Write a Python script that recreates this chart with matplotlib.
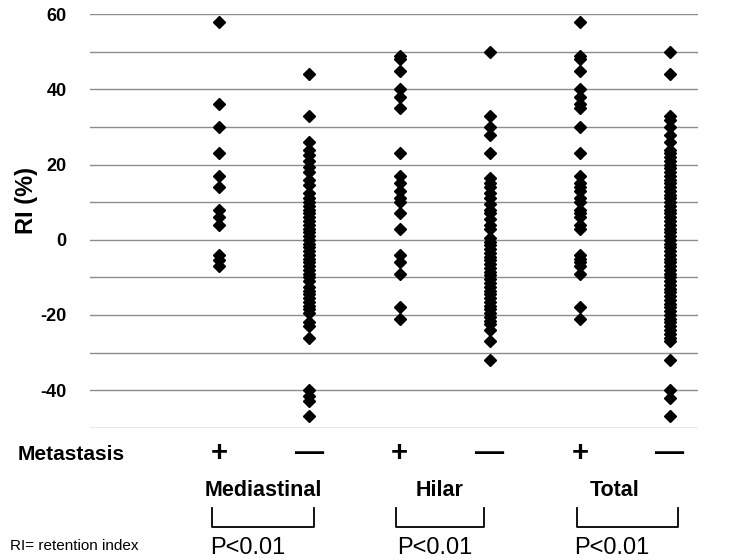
import matplotlib.pyplot as plt
import matplotlib.transforms as mtransforms
from matplotlib.lines import Line2D

# RI (%) values, one list per column
med_pos = [58, 36, 30, 23, 17, 14, 8, 6, 4, -4, -5.5, -7]
med_neg = [44, 33, 26, 24, 22.5, 21, 19.5, 18, 16, 14.5, 12.5, 11, 10, 9, 8,
           7, 6, 5, 4, 3, 2, 1, 0, -1, -2, -3, -4, -5, -6, -7, -8, -9, -10,
           -11, -12.5, -13.5, -14.5, -15.5, -16.5, -17.5, -18.5, -19.5,
           -22, -23, -26, -40, -41.5, -43, -47]
hil_pos = [49, 48, 45, 40, 38, 35, 23, 17, 15, 13, 11, 10, 7, 3, -4, -6, -9,
           -18, -21]
hil_neg = [50, 33, 30, 28, 23, 16.5, 15, 14, 12.5, 11, 9.5, 8, 7, 5.5, 4, 3,
           0.5, -0.5, -1.5, -2.5, -3.5, -4.5, -5.5, -6.5, -7.5, -8.5, -9.5,
           -10.5, -11.5, -12.5, -13.5, -14.5, -15.5, -16.5, -17.5, -18.5,
           -19.5, -20.5, -21.5, -22.5, -24, -27, -32]
tot_pos = [58, 49, 48, 45, 40, 38, 36, 35, 30, 23, 17, 15, 14, 13, 11, 10, 8,
           7, 6, 4, 3, -4, -5, -6, -7, -9, -18, -21]
tot_neg = [50, 44, 33, 32, 30, 28, 26, 24, 23, 22, 21, 20, 19, 18, 17, 16, 15,
           14, 13, 12, 11, 10, 9, 8, 7, 6, 5, 4, 3, 2, 1, 0, -1, -2, -3, -4,
           -5, -6, -7, -8, -9, -10, -11, -12, -13, -14, -15, -16, -17, -18,
           -19, -20, -21, -22, -23, -24, -25, -26, -27, -32, -40, -42, -47]

columns = [med_pos, med_neg, hil_pos, hil_neg, tot_pos, tot_neg]
signs = ["+", "\u2014", "+", "\u2014", "+", "\u2014"]
groups = ["Mediastinal", "Hilar", "Total"]
p_texts = ["P<0.01", "P<0.01", "P<0.01"]

W, H = 751, 560
plt.rcParams['font.family'] = ['Liberation Sans', 'DejaVu Sans']
fig = plt.figure(figsize=(W / 100, H / 100), dpi=100)


def fx(x):
    return x / W


def fy(y):
    return 1 - y / H


ax = fig.add_axes([fx(90), fy(427.7), fx(698) - fx(90), fy(14.3) - fy(427.7)])

for i, vals in enumerate(columns):
    ax.plot([i + 1] * len(vals), vals, linestyle='none', marker='D',
            markersize=6.5, color='black', zorder=3)

ax.set_xlim(-0.433, 6.31)
ax.set_ylim(-50, 60)
ax.set_yticks(range(-50, 61, 10))
ax.set_yticklabels(['' if v % 20 else str(v) for v in range(-50, 61, 10)],
                   fontsize=13, fontweight='bold')
ax.set_xticks([])
ax.tick_params(axis='y', length=0, pad=17)
ax.grid(axis='y', color='#8c8c8c', linewidth=1)
ax.set_axisbelow(True)
for s in ax.spines.values():
    s.set_visible(False)

fig.text(fx(27), fy(200), "RI (%)", rotation=90, fontsize=17,
         fontweight='bold', ha='center', va='center')

# annotation rows below the axes
tr = mtransforms.blended_transform_factory(ax.transData, fig.transFigure)
fig.text(fx(18), fy(454), "Metastasis", fontsize=15, fontweight='bold',
         ha='left', va='center')
for i, s in enumerate(signs):
    ax.text(i + 1, fy(453), s, transform=tr, fontsize=21, fontweight='bold',
            ha='center', va='center')

group_x = [263, 440, 615]
brackets = [(212, 314), (396, 484), (577, 678)]
p_x = [248, 435, 612]
for g, gx, (b0, b1), px, pt in zip(groups, group_x, brackets, p_x, p_texts):
    fig.text(fx(gx), fy(490), g, fontsize=15.5, fontweight='bold',
             ha='center', va='center')
    fig.add_artist(Line2D([fx(b0), fx(b0), fx(b1), fx(b1)],
                          [fy(508), fy(527), fy(527), fy(508)],
                          color='black', linewidth=1.3))
    fig.text(fx(px), fy(548), pt, fontsize=17, ha='center', va='center')

fig.text(fx(10), fy(546), "RI= retention index", fontsize=11,
         ha='left', va='center')

fig.savefig("out.png", dpi=100)
